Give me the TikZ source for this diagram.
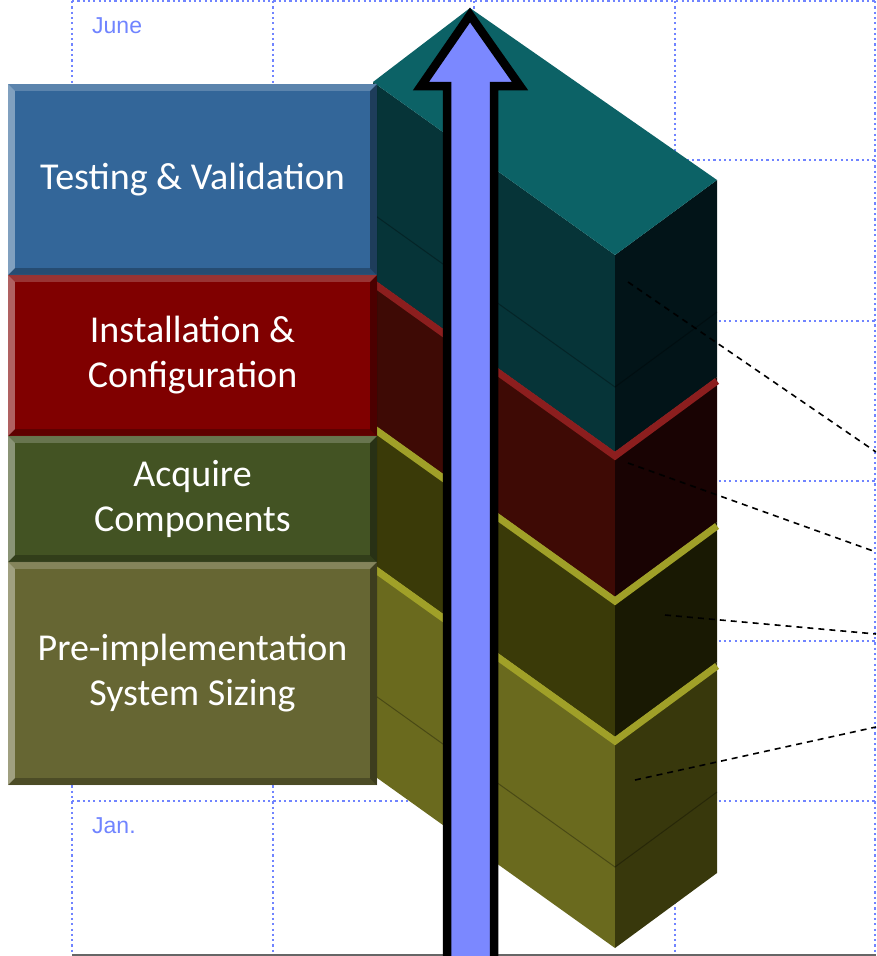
\documentclass[tikz,border=0pt]{standalone}
\usepackage{fontspec}
\usepackage{tikz}
\newfontfamily\panelfont{Carlito}
\newfontfamily\monthfont{Liberation Sans}
\definecolor{gridblue}{RGB}{112,132,255}
\definecolor{arrowblue}{RGB}{123,136,255}
\definecolor{tealtop}{RGB}{12,98,102}
\definecolor{tealL}{RGB}{6,52,56}
\definecolor{tealR}{RGB}{2,20,24}
\definecolor{redL}{RGB}{62,10,5}
\definecolor{redR}{RGB}{25,3,3}
\definecolor{redband}{RGB}{140,30,30}
\definecolor{darkoliveL}{RGB}{58,58,8}
\definecolor{darkoliveR}{RGB}{25,25,3}
\definecolor{oliveL}{RGB}{106,106,30}
\definecolor{oliveR}{RGB}{56,56,12}
\definecolor{yellowband}{RGB}{160,160,40}
\definecolor{testblue}{RGB}{51,102,153}
\definecolor{instred}{RGB}{128,0,0}
\definecolor{acqgreen}{RGB}{67,83,35}
\definecolor{preolive}{RGB}{102,102,51}
\tikzstyle{grid}=[gridblue, line width=2.2pt, dash pattern=on 2.2pt off 3.1pt]
\tikzstyle{month}=[anchor=base west, inner sep=0pt, text=gridblue, font=\monthfont\fontsize{23}{23}\selectfont]
\tikzstyle{panel}=[rectangle, inner sep=0pt, minimum width=369pt, text=white, align=center, font=\panelfont\fontsize{38}{45}\selectfont]
\tikzstyle{leader}=[black, line width=1.6pt, dash pattern=on 6pt off 5pt]
\tikzstyle{band}=[line width=7pt]
\tikzstyle{seam}=[black, opacity=.3, line width=1pt]
\tikzstyle{bigarrow}=[line width=8.5pt, draw=black, fill=arrowblue]

\begin{document}
\begin{tikzpicture}[x=1pt, y=-1pt]
\useasboundingbox (0,0) rectangle (876,956);
\clip (0,0) rectangle (876,956);
% month grid
\foreach \x in {72,273,474,675,875}
  \draw[grid] (\x,1) -- (\x,953);
\foreach \y in {1,160,321,481,641,801}
  \draw[grid] (72,\y) -- (875,\y);
\draw[black!60, line width=1.5pt] (72,955) -- (876,955);
\draw (92,33) node[month] (june) {June};
\draw (92,833) node[month] (jan) {Jan.};
% stacked box
\foreach \t/\b/\lc/\rc in {255/452/tealL/tealR, 452/597/redL/redR, 597/737/darkoliveL/darkoliveR, 737/948/oliveL/oliveR}{
  \fill[\lc] (615,\t) -- (615,\b) -- (373,\b-173) -- (373,\t-173) -- cycle;
  \fill[\rc] (615,\t) -- (615,\b) -- (717,\b-75) -- (717,\t-75) -- cycle;
}
\draw[band, redband] (373,283) -- (615,456) -- (717,381);
\draw[band, yellowband] (373,428) -- (615,601) -- (717,526);
\draw[band, yellowband] (373,568) -- (615,741) -- (717,666);
\draw[seam] (373,214) -- (615,387) -- (717,312);
\draw[seam] (373,694) -- (615,867) -- (717,792);
\fill[tealtop] (470,8) -- (373,82) -- (615,255) -- (717,180) -- cycle;
% phases
\draw (192.5,179.5) node[panel, fill=testblue, minimum height=191pt] (tv) {Testing \& Validation};
\draw (192.5,355.5) node[panel, fill=instred, minimum height=161pt] (ic) {Installation \&\\Configuration};
\draw (192.5,499) node[panel, fill=acqgreen, minimum height=126pt] (ac) {Acquire\\Components};
\draw (192.5,673.5) node[panel, fill=preolive, minimum height=223pt] (ps) {Pre-implementation\\System Sizing};
\foreach \p in {tv,ic,ac,ps}{
  \fill[white, opacity=.2] (\p.north west) -- (\p.north east) -- ([shift={(-7,7)}]\p.north east) -- ([shift={(7,7)}]\p.north west) -- cycle;
  \fill[white, opacity=.38] (\p.north west) -- ([shift={(7,7)}]\p.north west) -- ([shift={(7,-7)}]\p.south west) -- (\p.south west) -- cycle;
  \fill[black, opacity=.4] (\p.north east) -- ([shift={(-7,7)}]\p.north east) -- ([shift={(-7,-7)}]\p.south east) -- (\p.south east) -- cycle;
  \fill[black, opacity=.25] (\p.south west) -- ([shift={(7,-7)}]\p.south west) -- ([shift={(-7,-7)}]\p.south east) -- (\p.south east) -- cycle;
}
% time arrow
\draw[bigarrow] (470,15) -- (520,86) -- (494,86) -- (494,970) -- (447,970) -- (447,86) -- (421,86) -- cycle;
% leaders
\coordinate (tv-in) at (628,282);  \coordinate (tv-out) at (876,452);
\coordinate (ic-in) at (628,463);  \coordinate (ic-out) at (876,552);
\coordinate (ac-in) at (665,615);  \coordinate (ac-out) at (876,634);
\coordinate (ps-in) at (635,780);  \coordinate (ps-out) at (876,727);
\foreach \p in {tv,ic,ac,ps}
  \draw[leader] (\p-in) -- (\p-out);
\end{tikzpicture}
\end{document}
